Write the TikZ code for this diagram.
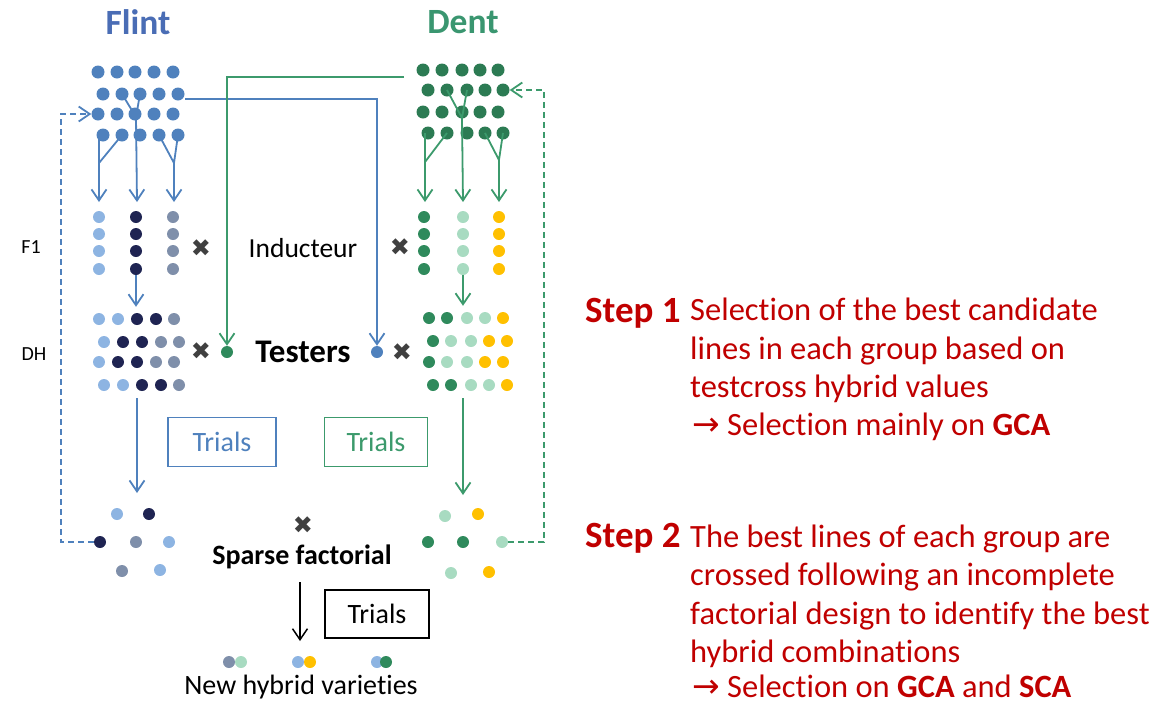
\documentclass[tikz,border=0pt]{standalone}
\usepackage{fontspec}
\setmainfont[Ligatures=NoCommon]{Carlito}
\newfontfamily\djv{DejaVu Sans}
\usetikzlibrary{arrows.meta}
\definecolor{fb}{HTML}{4F81BD}
\definecolor{dgg}{HTML}{2C7B53}
\definecolor{dg}{HTML}{2F8A5C}
\definecolor{gl}{HTML}{3C9A6C}
\definecolor{lb}{HTML}{8DB4E2}
\definecolor{nv}{HTML}{1F2452}
\definecolor{gb}{HTML}{7F8FAA}
\definecolor{lg}{HTML}{A8DBC1}
\definecolor{ye}{HTML}{FFC000}
\definecolor{xg}{HTML}{404040}
\definecolor{rd}{HTML}{C00000}
\definecolor{flintc}{HTML}{4A6DB5}
\definecolor{dentc}{HTML}{3A9670}
\newcommand\fsz[1]{\fontsize{#1}{#1}\selectfont}
\begin{document}
\begin{tikzpicture}[x=1pt,y=-1pt,
  dot/.style={circle,inner sep=0pt,minimum size=13pt},
  sdot/.style={circle,inner sep=0pt,minimum size=12pt},
  bl/.style={draw=fb,line width=1.8pt},
  gline/.style={draw=gl,line width=1.8pt},
  tip/.style={-{Straight Barb[length=11pt,width=15pt]}},
  dsh/.style={dash pattern=on 6pt off 4pt},
  cross/.style={font=\djv\fsz{24}, text=xg, inner sep=0pt},
  body/.style={anchor=base west, text=rd, font=\fsz{32.5}, inner sep=0pt},
  stepl/.style={anchor=base west, text=rd, font=\fsz{37}\bfseries, inner sep=0pt},
  trial/.style={draw, line width=1.5pt, font=\fsz{28}, minimum height=49pt, inner sep=0pt}
]
\useasboundingbox (0,0) rectangle (1160,702);

% titles
\node[font=\fsz{35.5}\bfseries, text=flintc] (tF) at (138,22) {Flint};
\node[font=\fsz{35.5}\bfseries, text=dentc] (tD) at (463,22) {Dent};

% Flint grid
\foreach \r/\y/\o in {1/72/0,2/94/5,3/114/0,4/135/5}
  \foreach \c/\x in {1/98,2/117,3/135,4/154,5/173}
    \node[dot,fill=fb] (f\r\c) at (\x+\o,\y) {};
% Dent grid
\foreach \r/\y/\o in {1/70/0,2/90/5,3/112/0,4/133/5}
  \foreach \c/\x in {1/423,2/442,3/462,4/480,5/498}
    \node[dot,fill=dgg] (d\r\c) at (\x+\o,\y) {};

% F1 rows
\foreach \r/\y in {1/217,2/234,3/251,4/269}{
  \node[sdot,fill=lb] (p1\r) at (99,\y) {};
  \node[sdot,fill=nv] (p2\r) at (136,\y) {};
  \node[sdot,fill=gb] (p3\r) at (173,\y) {};
  \node[sdot,fill=dg] (q1\r) at (424,\y) {};
  \node[sdot,fill=lg] (q2\r) at (463,\y) {};
  \node[sdot,fill=ye] (q3\r) at (499,\y) {};
}

% DH flint
\foreach \r/\y/\o/\ca/\cb/\cc/\cd/\ce in {1/319/0/lb/lb/nv/nv/gb,2/342/5/lb/nv/nv/gb/gb,3/362/0/lb/nv/nv/gb/gb,4/385/5/lb/lb/nv/nv/gb}{
  \node[sdot,fill=\ca] (h\r1) at (99+\o,\y) {};
  \node[sdot,fill=\cb] (h\r2) at (118+\o,\y) {};
  \node[sdot,fill=\cc] (h\r3) at (137+\o,\y) {};
  \node[sdot,fill=\cd] (h\r4) at (156+\o,\y) {};
  \node[sdot,fill=\ce] (h\r5) at (174+\o,\y) {};
}
% DH dent
\foreach \r/\y/\o/\ca/\cb/\cc/\cd/\ce in {1/318/0/dg/dg/lg/lg/ye,2/341/4/dg/lg/lg/ye/ye,3/362/0/dg/lg/lg/ye/ye,4/385/4/dg/dg/lg/lg/ye}{
  \node[sdot,fill=\ca] (k\r1) at (429+\o,\y) {};
  \node[sdot,fill=\cb] (k\r2) at (447+\o,\y) {};
  \node[sdot,fill=\cc] (k\r3) at (467+\o,\y) {};
  \node[sdot,fill=\cd] (k\r4) at (485+\o,\y) {};
  \node[sdot,fill=\ce] (k\r5) at (503+\o,\y) {};
}

% labels
\node[font=\fsz{20}] (lF1) at (31,247) {F1};
\node[font=\fsz{20}] (lDH) at (34,354) {DH};
\node[font=\fsz{27.5}] (ind) at (303,248) {Inducteur};
\node[font=\fsz{33}\bfseries] (tst) at (303,352) {Testers};

% crosses
\node[cross] (x1) at (201,248) {✖};
\node[cross] (x2) at (400,247) {✖};
\node[cross] (x3) at (201,351) {✖};
\node[cross] (x4) at (402,352) {✖};
\node[cross] (x5) at (303,525) {✖};

% testers
\node[sdot,fill=dg] (tG) at (227,352) {};
\node[sdot,fill=fb] (tB) at (377,352) {};

% trials
\node[trial,draw=fb,minimum width=108pt,text=fb] (tr1) at (222,442) {Trials};
\node[trial,draw=gl,minimum width=103pt,text=gl] (tr2) at (376,442) {Trials};
\node[trial,draw=black,minimum width=104pt,minimum height=48pt] (tr3) at (377,614) {Trials};

% bottom flint
\node[sdot,fill=lb] (fb1) at (117,514) {};
\node[sdot,fill=nv] (fb2) at (149,514) {};
\node[sdot,fill=nv] (fb3) at (100,542) {};
\node[sdot,fill=gb] (fb4) at (136,542) {};
\node[sdot,fill=lb] (fb5) at (169,542) {};
\node[sdot,fill=gb] (fb6) at (122,571) {};
\node[sdot,fill=lb] (fb7) at (160,570) {};
% bottom dent
\node[sdot,fill=lg] (db1) at (445,516) {};
\node[sdot,fill=ye] (db2) at (478,514) {};
\node[sdot,fill=dg] (db3) at (428,542) {};
\node[sdot,fill=dg] (db4) at (463,542) {};
\node[sdot,fill=lg] (db5) at (502,542) {};
\node[sdot,fill=lg] (db6) at (451,573) {};
\node[sdot,fill=ye] (db7) at (489,572) {};

\node[font=\fsz{28}\bfseries] (sf) at (302,557) {Sparse factorial};

% hybrids
\node[sdot,fill=gb] (hy1a) at (229,662) {};
\node[sdot,fill=lg] (hy1b) at (241,662) {};
\node[sdot,fill=lb] (hy2a) at (298,662) {};
\node[sdot,fill=ye] (hy2b) at (310,662) {};
\node[sdot,fill=lb] (hy3a) at (377,662) {};
\node[sdot,fill=dg] (hy3b) at (386,662) {};
\node[font=\fsz{28}] (nhv) at (301,687) {New hybrid varieties};

% Flint branches
\coordinate (fjL) at (99,163); \coordinate (feL) at (99,202);
\coordinate (fjM) at (136,117); \coordinate (feM) at (137,202);
\coordinate (fjR) at (174,163); \coordinate (feR) at (174,202);
\draw[bl] (f42.center) -- (fjL);
\draw[bl,tip] (fjL |- f41.center) -- (feL);
\draw[bl] (f22.center) -- (fjM) -- (f23.center);
\draw[bl,tip] (fjM) -- (feM);
\draw[bl] (f44.center) -- (fjR) -- (f45.center);
\draw[bl,tip] (fjR) -- (feR);
% Dent branches
\coordinate (djL) at (425,162); \coordinate (deL) at (425,202);
\coordinate (djM) at (462,118); \coordinate (deM) at (463,202);
\coordinate (djR) at (499,160); \coordinate (deR) at (499,202);
\draw[gline] (d42.center) -- (djL);
\draw[gline,tip] (djL |- d41.center) -- (deL);
\draw[gline] (d22.center) -- (djM) -- (d23.center);
\draw[gline,tip] (djM) -- (deM);
\draw[gline] (d44.center) -- (djR) -- (d45.center);
\draw[gline,tip] (djR) -- (deR);

% tester lines
\coordinate (bS) at (185,99);
\draw[bl,tip] (bS) -| (tB);
\coordinate (gS) at (404,77);
\draw[gline,tip] (gS) -| (tG);

% F1 -> DH
\draw[bl,tip,shorten >=6pt] (p24) -- (p24 |- h13.north);
\draw[gline,tip,shorten >=6pt] (q24) -- (q24 |- k13.north);

% DH -> selection
\coordinate (fd1) at (137,398); \coordinate (fd2) at (137,493);
\draw[bl,tip] (fd1) -- (fd2);
\coordinate (gd1) at (463,398); \coordinate (gd2) at (463,495);
\draw[gline,tip] (gd1) -- (gd2);

% feedback dashed
\coordinate (fc1) at (61,542); \coordinate (fc2) at (61,114);
\draw[bl,dsh,tip] (fb3.west) -- (fc1) -- (fc2) -- (f31.west);
\coordinate (dc1) at (544,542); \coordinate (dc2) at (544,90);
\draw[gline,dsh,tip] (db5.east) -- (dc1) -- (dc2) -- (d25.east);

% sparse factorial arrow
\coordinate (bk1) at (300,582); \coordinate (bk2) at (300,641);
\draw[black,line width=1.5pt,tip] (bk1) -- (bk2);

% right text
\node[stepl] (s1) at (585,322) {Step 1};
\node[body] (s1a) at (690,320) {Selection of the best candidate};
\node[body] (s1b) at (690,359) {lines in each group based on};
\node[body] (s1c) at (690,397) {testcross hybrid values};
\node[body] (s1d) at (692,435) {{\djv\fsz{33}\smash{→}} Selection mainly on \textbf{GCA}};

\node[stepl] (s2) at (585,547) {Step 2};
\node[body] (s2a) at (690,547) {The best lines of each group are};
\node[body] (s2b) at (690,585) {crossed following an incomplete};
\node[body] (s2c) at (690,624) {factorial design to identify the best};
\node[body] (s2d) at (690,662) {hybrid combinations};
\node[body] (s2e) at (692,697) {{\djv\fsz{33}\smash{→}} Selection on \textbf{GCA} and \textbf{SCA}};
\end{tikzpicture}
\end{document}
